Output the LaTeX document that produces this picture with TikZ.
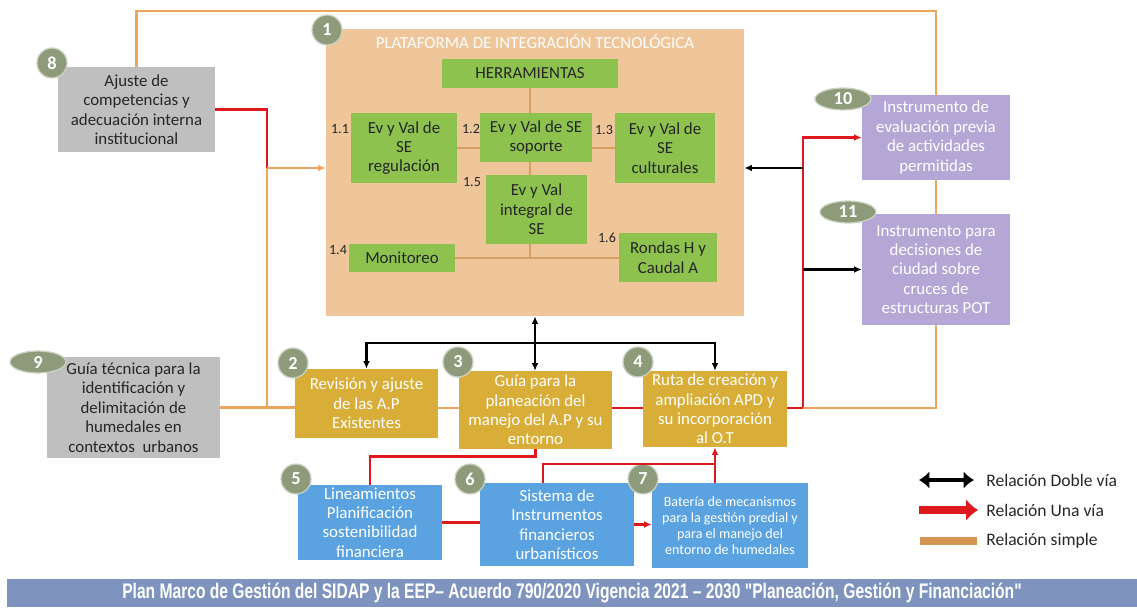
\documentclass[tikz,border=0pt]{standalone}
\usepackage{fontspec}
\setmainfont{Carlito}
\newfontfamily\piefont[FakeStretch=0.74]{Liberation Sans}
\usetikzlibrary{arrows.meta,calc,shapes.geometric}

\definecolor{beige}{RGB}{238,198,153}
\definecolor{verde}{RGB}{141,194,79}
\definecolor{gris}{RGB}{191,191,191}
\definecolor{oro}{RGB}{216,174,56}
\definecolor{azul}{RGB}{91,163,224}
\definecolor{lila}{RGB}{180,167,214}
\definecolor{verdegris}{RGB}{141,155,122}
\definecolor{naranja}{RGB}{236,166,92}
\definecolor{lineafina}{RGB}{214,160,100}
\definecolor{rojo}{RGB}{222,24,28}
\definecolor{pie}{RGB}{126,148,190}

\newcommand\pxu{0.025cm}

\pgfdeclarelayer{background}
\pgfdeclarelayer{mid}
\pgfsetlayers{background,mid,main}

\tikzset{
  >={Latex[length=1.9mm,width=1.7mm]},
  caja/.style 2 args={draw=none, align=center, inner sep=1pt, text=black!85,
    minimum width=#1*\pxu, minimum height=#2*\pxu, font=\fontsize{12}{13.8}\selectfont},
  insignia/.style={circle, fill=verdegris, draw=verdegris!45!white, line width=0.9pt,
    minimum size=30*\pxu, inner sep=0pt, text=white, font=\bfseries\fontsize{13}{13}\selectfont},
  ovalo/.style={ellipse, fill=verdegris, draw=verdegris!45!white, line width=0.9pt,
    minimum width=56*\pxu, minimum height=22*\pxu, inner sep=0pt, text=white,
    font=\bfseries\fontsize{13}{13}\selectfont},
  numlbl/.style={inner sep=0pt, text=black!85, font=\fontsize{10}{10}\selectfont},
  relsimple/.style={draw=naranja, line width=1.6pt},
  relunavia/.style={draw=rojo, line width=1.9pt},
  reldoble/.style={draw=black, line width=1.6pt},
  fina/.style={draw=lineafina, line width=0.8pt},
  leyenda/.style={anchor=west, inner sep=0pt, text=black!85, font=\fontsize{12.5}{12.5}\selectfont}
}

\begin{document}
\begin{tikzpicture}[x=0.025cm, y=-0.025cm]
\useasboundingbox (0,0) rectangle (1137,607);

% plataforma 1
\begin{pgfonlayer}{background}
\node[caja={418}{287}, fill=beige] (plat) at (535,172.5) {};
\end{pgfonlayer}
\node[insignia] (n1) at (327,30) {1};
\node[inner sep=0pt, text=white, font=\fontsize{12}{12}\selectfont] (tit) at (535,42) {PLATAFORMA DE INTEGRACIÓN TECNOLÓGICA};
\node[caja={176}{29}, fill=verde] (herr) at (530,73.5) {HERRAMIENTAS};
\node[caja={106}{70}, fill=verde] (s11) at (404,148) {Ev y Val de\\SE\\regulación};
\node[caja={112}{49}, fill=verde] (s12) at (536,137.5) {Ev y Val de SE\\soporte};
\node[caja={100}{70}, fill=verde] (s13) at (665,148) {Ev y Val de\\SE\\culturales};
\node[caja={101}{69}, fill=verde] (s15) at (536.5,209.5) {Ev y Val\\integral de\\SE};
\node[caja={106}{28}, fill=verde] (s14) at (402,258) {Monitoreo};
\node[caja={98}{49}, fill=verde] (s16) at (668,257.5) {Rondas H y\\Caudal A};

\node[numlbl] (l11) at (340,129) {1.1};
\node[numlbl] (l12) at (471,129) {1.2};
\node[numlbl] (l13) at (604,130) {1.3};
\node[numlbl] (l15) at (472,182) {1.5};
\node[numlbl] (l14) at (338,250) {1.4};
\node[numlbl] (l16) at (607,238) {1.6};

\begin{pgfonlayer}{mid}
\draw[fina] (herr.south) -- (herr.south |- s14.east);
\draw[fina] (s14.east) -- (s14.east -| s16.west);
\draw[fina] (s11.east) -- (s12.west |- s11.east);
\draw[fina] (s12.east |- s13.west) -- (s13.west);
\end{pgfonlayer}

% cajas externas
\node[caja={157}{85}, fill=gris] (ajuste) at (136.5,109.5) {Ajuste de\\competencias y\\adecuación interna\\institucional};
\node[insignia] (n8) at (52,63) {8};
\node[caja={173}{101}, fill=gris] (guia9) at (133.5,407.5) {Guía técnica para la\\identificación y\\delimitación de\\humedales en\\contextos\ \ urbanos};
\node[ovalo] (n9) at (38,362) {9};

\node[caja={143}{69}, fill=oro, text=white] (rev) at (366.5,403.5) {Revisión y ajuste\\de las A.P\\Existentes};
\node[insignia] (n2) at (293,363) {2};
\node[caja={153}{78}, fill=oro, text=white] (guia3) at (535.5,410) {Guía para la\\planeación del\\manejo del A.P y su\\entorno};
\node[insignia] (n3) at (458,362) {3};
\node[caja={144}{76}, fill=oro, text=white] (ruta) at (715,409) {Ruta de creación y\\ampliación APD y\\su incorporación\\al O.T};
\node[insignia] (n4) at (638,362) {4};

\node[caja={144}{75}, fill=azul, text=white] (lin) at (370,522.5) {Lineamientos\\Planificación\\sostenibilidad\\financiera};
\node[insignia] (n5) at (296,479) {5};
\node[caja={154}{83}, fill=azul, text=white] (sis) at (557,524.5) {Sistema de\\Instrumentos\\financieros\\urbanísticos};
\node[insignia] (n6) at (470,479) {6};
\node[caja={156}{85}, fill=azul, text=white, font=\fontsize{10}{11.5}\selectfont] (bat) at (730,525.5) {Batería de mecanismos\\para la gestión predial y\\para el manejo del\\entorno de humedales};
\node[insignia] (n7) at (643,479) {7};

\node[caja={148}{85}, fill=lila, text=white] (ins10) at (936,137.5) {Instrumento de\\evaluación previa\\de actividades\\permitidas};
\node[ovalo] (n10) at (843,99) {10};
\node[caja={148}{111}, fill=lila, text=white] (ins11) at (936,269.5) {Instrumento para\\decisiones de\\ciudad sobre\\cruces de\\estructuras POT};
\node[ovalo] (n11) at (848,212) {11};

% conectores
\coordinate (j8) at (267,168);
\coordinate (jR) at (803,408);
\coordinate (jS) at (543,464);
\path (plat.south) ++(0,27) coordinate (jB);

\draw[relsimple] (ajuste.north) -- ++(0,-56) -| (ins10.north);
\draw[relunavia] (ajuste.east) -| (j8);
\draw[relsimple] (j8 |- guia9.east) -- (j8);
\draw[relsimple, ->] (j8) -- (j8 -| plat.west);
\draw[relsimple] (guia9.east) -- (guia9.east -| rev.west);
\draw[relsimple] (rev.east |- jR) -- (guia3.west |- jR);
\draw[relunavia] (guia3.east |- jR) -- (ruta.west |- jR);
\draw[relunavia, ->] (ruta.east |- jR) -- (jR) -- (jR |- ins10.west) -- (ins10.west);
\draw[relsimple] (jR) -| (ins11.south);
\draw[relsimple] (ins10.south) -- (ins11.north);
\draw[reldoble, ->] (jR |- j8) -- (plat.east |- j8);
\draw[reldoble, ->] (jR |- ins11.west) -- (ins11.west);

\draw[reldoble, <->] (plat.south) -- (plat.south |- guia3.north);
\draw[reldoble, ->] (jB) -| (rev.north);
\draw[reldoble, ->] (jB) -| (ruta.north);

\draw[relunavia] (lin.north) -- ++(0,-28) -| (guia3.south);
\draw[relunavia] (lin.east) -- (lin.east -| sis.west);
\draw[relunavia, ->] (jS |- sis.north) -- (jS) -| (ruta.south);
\draw[relunavia] (bat.north -| ruta.south) -- (ruta.south |- jS);
\draw[relunavia, ->] (sis.east) -- (sis.east -| bat.west);

% leyenda
\node[leyenda] (lg1) at (986,480) {Relación Doble vía};
\node[leyenda] (lg2) at (986,510) {Relación Una vía};
\node[leyenda] (lg3) at (986,541) {Relación simple};
\draw[line width=3.2pt, {Latex[length=2.6mm,width=4.4mm]}-{Latex[length=2.6mm,width=4.4mm]}] ($(lg1.west)+(-67,0)$) -- ($(lg1.west)+(-12,0)$);
\draw[rojo, line width=6pt, -{Latex[length=3mm,width=5.6mm]}] ($(lg2.west)+(-67,0)$) -- ($(lg2.west)+(-8,0)$);
\draw[naranja!90!black, line width=6pt] ($(lg3.west)+(-66,0)$) -- ($(lg3.west)+(-9,0)$);

% pie
\node[fill=pie, minimum width=1130*\pxu, minimum height=28*\pxu, inner sep=0pt, text=white,
  font=\piefont\bfseries\fontsize{15}{15}\selectfont] (pie) at (572,593)
  {Plan Marco de Gestión del SIDAP y la EEP– Acuerdo 790/2020 Vigencia 2021 – 2030 "Planeación, Gestión y Financiación"};
\end{tikzpicture}
\end{document}
